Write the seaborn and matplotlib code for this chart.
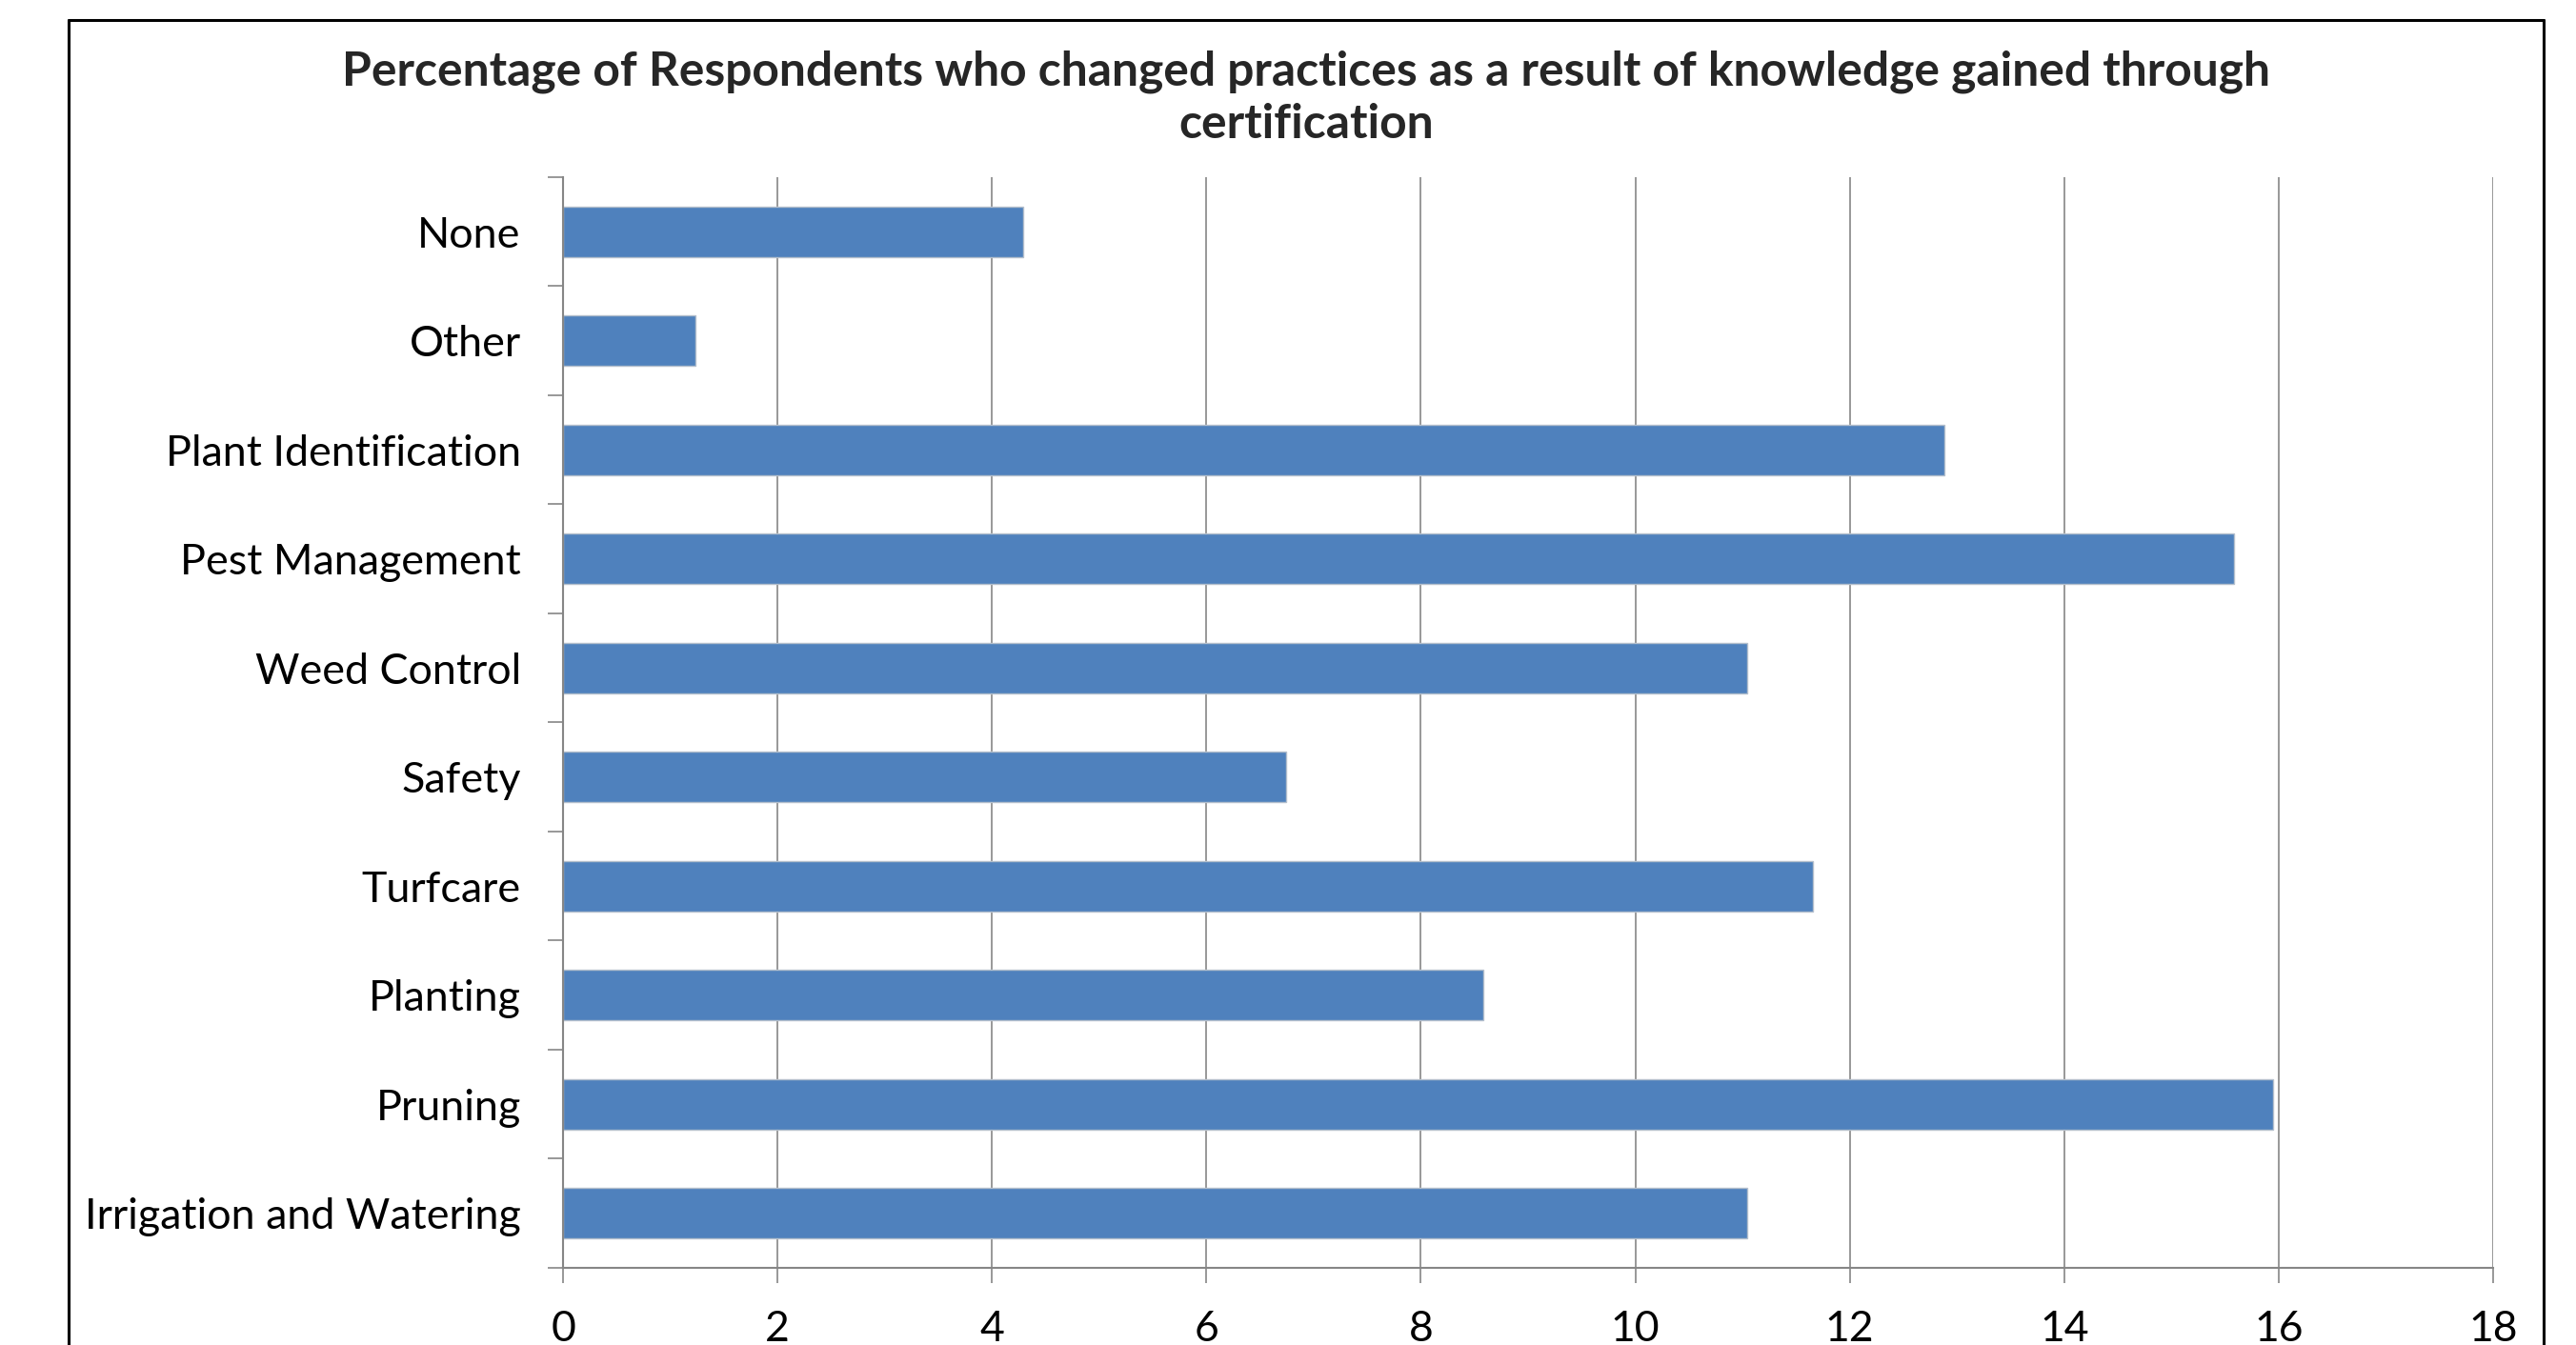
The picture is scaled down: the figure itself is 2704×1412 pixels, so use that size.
import matplotlib
matplotlib.use('Agg')
import matplotlib.pyplot as plt
import seaborn as sns
import pandas as pd
from matplotlib.lines import Line2D
from matplotlib.ticker import MultipleLocator, FixedLocator

categories = ['None', 'Other', 'Plant Identification', 'Pest Management', 'Weed Control',
              'Safety', 'Turfcare', 'Planting', 'Pruning', 'Irrigation and Watering']
percent = [4.29, 1.23, 12.88, 15.58, 11.04, 6.74, 11.66, 8.58, 15.95, 11.04]
title = 'Percentage of Respondents who changed practices as a result of knowledge gained through\ncertification'

df = pd.DataFrame({'category': categories, 'percent': percent})

sns.set_style('white')
plt.rcParams['font.family'] = ['Lato', 'DejaVu Sans']

fig = plt.figure(figsize=(27.04, 14.12), dpi=100)
ax = fig.add_axes([0.2186, 0.0574, 0.7492, 0.8109])

grid_col = '#868686'
sns.barplot(data=df, x='percent', y='category', orient='h', color='#4F81BD',
            saturation=1, width=0.46, edgecolor='#b4bfcc', linewidth=1, ax=ax)

ax.set_xlim(0, 18)
ax.set_ylim(9.5, -0.5)
ax.xaxis.set_major_locator(MultipleLocator(2))
ax.set_axisbelow(True)
ax.grid(axis='x', color=grid_col, linewidth=1.2)
ax.grid(axis='y', visible=False)

for side in ['top', 'right']:
    ax.spines[side].set_visible(False)
for side in ['left', 'bottom']:
    ax.spines[side].set_color(grid_col)
    ax.spines[side].set_linewidth(1.5)

ax.set_xlabel('')
ax.set_ylabel('')
ax.tick_params(axis='x', which='major', direction='out', length=11.5, width=1.2,
               color=grid_col, pad=20, labelsize=32, labelcolor='black', bottom=True)
ax.yaxis.set_minor_locator(FixedLocator([i - 0.5 for i in range(len(categories) + 1)]))
ax.tick_params(axis='y', which='major', length=0, pad=32, labelsize=32.3, labelcolor='black')
ax.tick_params(axis='y', which='minor', direction='out', length=11.5, width=1.2,
               color=grid_col, left=True)

fig.text(0.507, 0.963, title, ha='center', va='top', fontsize=35.8,
         fontweight='bold', linespacing=1.27)

# outer chart frame (bottom edge lies outside the image)
frame = dict(color='black', linewidth=2.2, transform=fig.transFigure)
fig.add_artist(Line2D([0.0266, 0.9875], [0.985, 0.985], **frame))
fig.add_artist(Line2D([0.0266, 0.0266], [0.985, -0.01], **frame))
fig.add_artist(Line2D([0.9875, 0.9875], [0.985, -0.01], **frame))

plt.savefig('out.png', dpi=100)
